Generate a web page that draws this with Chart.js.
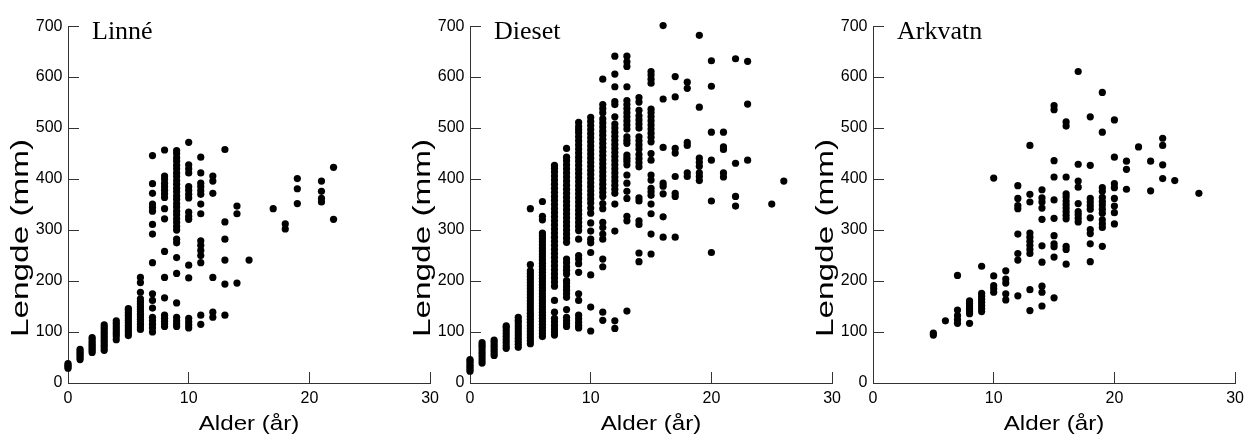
<!DOCTYPE html>
<html>
<head>
<meta charset="utf-8">
<script src="https://cdn.jsdelivr.net/npm/chart.js@4.4.0/dist/chart.umd.min.js"></script>
<style>
  html, body { margin: 0; padding: 0; background: #fff; }
  body { width: 1247px; height: 434px; position: relative; overflow: hidden; }
  .panel { position: absolute; top: 0; width: 456px; height: 434px; }
</style>
</head>
<body>
<div class="panel" style="left:0"><canvas id="linne"></canvas></div>
<div class="panel" style="left:402px"><canvas id="dieset"></canvas></div>
<div class="panel" style="left:805px"><canvas id="arkvatn"></canvas></div>
<script>
const xTicks = [0, 10, 20, 30];
const yTicks = [0, 100, 200, 300, 400, 500, 600, 700];
const xTitle = "Alder (år)";
const yTitle = "Lengde (mm)";

// Linné: length (mm) of each fish, grouped by age (years)
const linneAges = [0, 1, 2, 3, 4, 5, 6, 7, 8, 9, 10, 11, 12, 13, 14, 15, 17, 18, 19, 21, 22];
const linneLengths = [
    [29, 32, 35, 38],
    [46, 50, 54, 58, 62, 66],
    [60, 64, 68, 72, 76, 80, 85, 89],
    [64, 69, 74, 79, 84, 89, 94, 99, 104, 109, 114],
    [85, 92, 97, 102, 107, 112, 117, 122],
    [93, 98, 103, 108, 113, 118, 123, 128, 133, 138, 143, 146],
    [105, 110, 115, 120, 125, 130, 135, 140, 145, 150, 155, 160, 165, 178, 197, 207],
    [100, 108, 115, 122, 129, 147, 162, 175, 236, 292, 311, 337, 344, 351, 372, 391, 446],
    [111, 116, 121, 127, 133, 167, 207, 258, 322, 342, 364, 371, 378, 385, 392, 400, 406, 457],
    [111, 116, 122, 129, 157, 215, 246, 275, 282, 300, 307, 315, 322, 330, 337, 345, 352, 360, 367, 375, 382, 390, 397, 405, 412, 420, 427, 435, 442, 450, 456],
    [108, 114, 120, 127, 206, 231, 321, 327, 335, 363, 370, 378, 385, 412, 420, 428, 472],
    [115, 133, 236, 250, 260, 270, 279, 332, 351, 370, 377, 385, 392, 412, 443],
    [129, 139, 207, 372, 396, 406],
    [133, 194, 241, 282, 316, 458],
    [196, 332, 347],
    [241],
    [342],
    [302, 312],
    [352, 381, 401],
    [355, 362, 376, 396],
    [321, 423]
];

// Dieset
const diesetAges = [0, 1, 2, 3, 4, 5, 6, 7, 8, 9, 10, 11, 12, 13, 14, 15, 16, 17, 18, 19, 20, 21, 22, 23, 25, 26];
const diesetLengths = [
    [23, 27, 31, 35, 39, 43, 46],
    [39, 45, 51, 57, 63, 69, 74, 79],
    [54, 59, 64, 69, 74, 79, 84],
    [68, 73, 79, 85, 91, 97, 103, 109, 112],
    [70, 76, 82, 88, 94, 100, 106, 112, 118, 123, 129],
    [77, 83, 89, 95, 101, 107, 113, 119, 125, 131, 137, 143, 149, 155, 161, 167, 173, 179, 185, 191, 197, 203, 209, 215, 220, 232, 342],
    [91, 97, 103, 109, 115, 121, 127, 133, 139, 145, 151, 157, 163, 169, 175, 181, 187, 193, 199, 205, 211, 217, 223, 229, 235, 241, 247, 253, 259, 265, 271, 277, 283, 289, 294, 320, 327, 356],
    [94, 100, 106, 113, 120, 127, 139, 162, 190, 198, 206, 214, 222, 230, 238, 246, 254, 262, 270, 278, 286, 294, 302, 310, 318, 326, 334, 342, 350, 358, 366, 374, 382, 390, 398, 406, 414, 421, 427],
    [111, 116, 122, 129, 144, 168, 175, 182, 189, 196, 201, 214, 221, 228, 236, 243, 276, 284, 292, 300, 308, 316, 324, 332, 340, 348, 356, 364, 372, 380, 388, 396, 404, 412, 420, 428, 436, 443, 460],
    [108, 113, 119, 126, 133, 162, 175, 217, 234, 243, 250, 282, 299, 307, 315, 323, 331, 339, 347, 355, 363, 371, 379, 387, 395, 403, 411, 419, 427, 435, 443, 451, 459, 467, 475, 483, 491, 497, 503, 511],
    [102, 149, 212, 256, 275, 282, 298, 314, 333, 343, 353, 361, 369, 377, 385, 393, 401, 409, 417, 425, 433, 441, 449, 457, 465, 473, 481, 489, 497, 505, 513, 521],
    [123, 139, 228, 243, 282, 292, 305, 315, 342, 352, 366, 374, 382, 390, 398, 406, 414, 422, 430, 438, 446, 454, 462, 470, 478, 486, 494, 502, 510, 518, 530, 538, 546, 596],
    [107, 122, 298, 351, 372, 380, 388, 396, 404, 412, 420, 428, 436, 444, 452, 460, 468, 476, 484, 492, 500, 508, 522, 546, 552, 581, 606, 641],
    [141, 318, 327, 362, 376, 392, 408, 428, 435, 441, 447, 470, 476, 483, 498, 506, 514, 522, 530, 538, 546, 554, 581, 621, 630, 641],
    [238, 255, 311, 318, 357, 363, 424, 432, 440, 448, 459, 467, 475, 483, 500, 508, 516, 524, 535, 551, 560],
    [253, 292, 332, 351, 368, 375, 382, 398, 408, 437, 450, 473, 482, 490, 498, 506, 514, 522, 530, 537, 588, 596, 604, 611],
    [286, 326, 371, 386, 392, 462, 557, 701],
    [286, 366, 372, 405, 451, 460, 561, 601],
    [405, 412, 466, 472, 578, 590],
    [397, 405, 412, 425, 433, 441, 541, 682],
    [256, 357, 437, 492, 582, 632],
    [404, 412, 458, 463, 492],
    [347, 366, 431, 636],
    [437, 547, 631],
    [351],
    [396]
];

// Arkvatn
const arkvatnAges = [5, 6, 7, 8, 9, 10, 11, 12, 13, 14, 15, 16, 17, 18, 19, 20, 21, 22, 23, 24, 25, 27];
const arkvatnLengths = [
    [94, 98],
    [122],
    [117, 124, 132, 143, 211],
    [117, 136, 141, 146, 151, 156, 161],
    [140, 146, 152, 158, 164, 170, 176, 229],
    [178, 185, 191, 210, 402],
    [163, 175, 196, 204, 220],
    [171, 241, 254, 292, 342, 348, 362, 387],
    [142, 183, 254, 262, 270, 278, 286, 294, 355, 370, 466],
    [151, 178, 190, 237, 269, 321, 343, 355, 363, 379],
    [167, 247, 267, 273, 289, 323, 359, 404, 436, 536, 544],
    [233, 262, 268, 322, 329, 336, 343, 350, 357, 365, 371, 404, 504, 512],
    [316, 323, 330, 336, 352, 384, 396, 429, 611],
    [238, 273, 293, 301, 324, 341, 348, 355, 362, 427, 522],
    [268, 305, 312, 320, 333, 341, 349, 356, 364, 376, 383, 492, 570],
    [312, 334, 347, 362, 383, 391, 443, 516],
    [380, 419, 435],
    [463],
    [377, 435],
    [401, 428, 466, 480],
    [397],
    [372]
];

const axisColor = "#333";
const sans = '"Liberation Sans", Arial, sans-serif';

// lake name in the corner + the (wide) axis titles
const panelLabels = {
    id: "panelLabels",
    afterDraw(chart, args, opts) {
        const { ctx, chartArea: a } = chart;
        ctx.save();
        ctx.fillStyle = "#000";

        ctx.font = '26px "Liberation Serif", "Times New Roman", serif';
        ctx.textAlign = "left";
        ctx.textBaseline = "alphabetic";
        ctx.fillText(opts.name, a.left + 24, a.top + 13);

        ctx.font = "21px " + sans;
        ctx.textAlign = "center";
        ctx.save();
        ctx.translate((a.left + a.right) / 2, a.bottom + 47);
        ctx.scale(1.15, 1);
        ctx.fillText(xTitle, 0, 0);
        ctx.restore();

        // rotated, stretched along the text, starting from the bottom end
        ctx.save();
        ctx.font = "23px " + sans;
        ctx.textAlign = "left";
        ctx.textBaseline = "middle";
        ctx.translate(a.left - 46, a.top + 311);
        ctx.rotate(-Math.PI / 2);
        ctx.scale(1.45, 1);
        ctx.fillText(yTitle, 0, 0);
        ctx.restore();

        ctx.restore();
    }
};

function makeChart(id, name, ages, lengths) {
    const points = [];
    ages.forEach((age, i) => {
        lengths[i].forEach(len => points.push({ x: age, y: len }));
    });

    return new Chart(document.getElementById(id), {
        type: "scatter",
        data: {
            datasets: [{
                data: points,
                backgroundColor: "#000",
                borderWidth: 0,
                pointRadius: 3.6,
                pointHoverRadius: 3.6,
                clip: false
            }]
        },
        options: {
            responsive: true,
            maintainAspectRatio: false,
            animation: false,
            events: [],
            layout: { padding: { left: 0, top: 24, right: 0, bottom: 0 } },
            plugins: {
                legend: { display: false },
                tooltip: { enabled: false },
                panelLabels: { name: name }
            },
            scales: {
                x: {
                    type: "linear",
                    min: 0,
                    max: 30,
                    afterBuildTicks: s => { s.ticks = xTicks.map(v => ({ value: v })); },
                    afterFit: s => { s.height = 51; },
                    border: { color: axisColor, width: 1 },
                    grid: { drawOnChartArea: false, drawTicks: true, tickLength: -11, color: axisColor },
                    ticks: { font: { family: sans, size: 16 }, color: "#000", padding: 17, maxRotation: 0 }
                },
                y: {
                    type: "linear",
                    min: 0,
                    max: 700,
                    afterBuildTicks: s => { s.ticks = yTicks.map(v => ({ value: v })); },
                    afterFit: s => { s.width = 68; },
                    border: { color: axisColor, width: 1 },
                    grid: { drawOnChartArea: false, drawTicks: true, tickLength: -11, color: axisColor },
                    ticks: { font: { family: sans, size: 16 }, color: "#000", padding: 16.5 }
                }
            }
        },
        plugins: [panelLabels]
    });
}

makeChart("linne", "Linné", linneAges, linneLengths);
makeChart("dieset", "Dieset", diesetAges, diesetLengths);
makeChart("arkvatn", "Arkvatn", arkvatnAges, arkvatnLengths);
</script>
</body>
</html>
